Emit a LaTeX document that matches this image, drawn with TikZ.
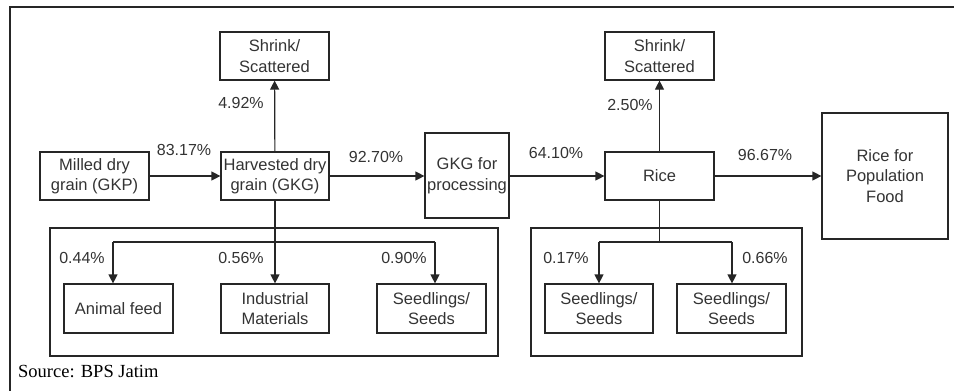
\documentclass[tikz,border=0pt]{standalone}
\usepackage{fontspec}
\setmainfont{Liberation Serif}
\newfontfamily\arialf{Liberation Sans}
\usetikzlibrary{arrows.meta,calc}
\begin{document}
\begin{tikzpicture}[x=1pt,y=-1pt,
  ln/.style={line width=1.2pt,draw=black!85},
  arr/.style={ln,-{Triangle[length=9pt,width=9pt]}},
  box/.style={draw=black!85,line width=1.2pt,inner sep=0pt,align=center,
    font=\arialf\fontsize{16.5}{20.5}\selectfont,text=black!80},
  lbl/.style={inner sep=0pt,font=\arialf\fontsize{16}{19}\selectfont,text=black!80}]
\useasboundingbox (0,0) rectangle (954,391);
\coordinate (fbl) at (10,391);
\coordinate (ftl) at (10,7);
\coordinate (ftr) at (954,7);
\draw[line width=1.3pt,draw=black!85] (fbl) -- (ftl) -- (ftr);
% groups
\node[draw=black!85,line width=1.2pt,minimum width=448pt,minimum height=128pt,inner sep=0pt] (g1) at (274,292) {};
\node[draw=black!85,line width=1.2pt,minimum width=271pt,minimum height=128pt,inner sep=0pt] (g2) at (666.5,292) {};
% main row
\node[box,minimum width=109pt,minimum height=48pt] (gkp) at (94.5,176) {Milled dry\\grain (GKP)};
\node[box,minimum width=108pt,minimum height=48pt] (gkg) at (275,176) {Harvested dry\\grain (GKG)};
\node[box,minimum width=84pt,minimum height=85pt] (proc) at (467,175.5) {GKG for\\processing};
\node[box,minimum width=109pt,minimum height=48pt] (rice) at (659.5,176) {Rice};
\node[box,minimum width=126pt,minimum height=126pt] (food) at (885,176) {Rice for\\Population\\Food};
% shrink
\node[box,minimum width=109pt,minimum height=48pt] (sh1) at (274.5,56) {Shrink/\\Scattered};
\node[box,minimum width=109pt,minimum height=48pt] (sh2) at (659.5,56) {Shrink/\\Scattered};
% bottom boxes
\node[box,minimum width=109pt,minimum height=49pt] (af) at (118.5,308.5) {Animal feed};
\node[box,minimum width=108pt,minimum height=49pt] (im) at (275,308.5) {Industrial\\Materials};
\node[box,minimum width=109pt,minimum height=49pt] (sd1) at (431.5,308.5) {Seedlings/\\Seeds};
\node[box,minimum width=108pt,minimum height=49pt] (sd2) at (599,308.5) {Seedlings/\\Seeds};
\node[box,minimum width=109pt,minimum height=49pt] (sd3) at (731.5,308.5) {Seedlings/\\Seeds};
% main arrows
\draw[arr] (gkp) -- (gkg);
\draw[arr] (gkg) -- (gkg -| proc.west);
\draw[arr] (proc.east |- rice) -- (rice);
\draw[arr] (rice) -- (rice -| food.west);
\draw[arr] (gkg) -- (sh1);
\draw[arr] (rice) -- (sh2);
% branches group 1
\coordinate (b1l) at (113,242);
\coordinate (b1r) at (435,242);
\draw[arr] (gkg) -- (im);
\draw[ln] (b1l) -- (b1r);
\draw[arr] (b1l) -- (b1l |- af.north);
\draw[arr] (b1r) -- (b1r |- sd1.north);
% branches group 2
\coordinate (b2l) at (599,242);
\coordinate (b2r) at (732,242);
\coordinate (b2m) at (659.5,242);
\draw[ln] (rice.south) -- (b2m);
\draw[ln] (b2l) -- (b2r);
\draw[arr] (b2l) -- (b2l |- sd2.north);
\draw[arr] (b2r) -- (b2r |- sd3.north);
% labels
\node[lbl] (l1) at (184,150) {83.17\%};
\node[lbl] (l2) at (376,157) {92.70\%};
\node[lbl] (l3) at (241,103) {4.92\%};
\node[lbl] (l4) at (556,153) {64.10\%};
\node[lbl] (l5) at (765,155) {96.67\%};
\node[lbl] (l6) at (630,105) {2.50\%};
\node[lbl] (l7) at (82,258) {0.44\%};
\node[lbl] (l8) at (241,258) {0.56\%};
\node[lbl] (l9) at (404,258) {0.90\%};
\node[lbl] (l10) at (566,258) {0.17\%};
\node[lbl] (l11) at (765,258) {0.66\%};
\node[anchor=west,inner sep=0pt,font=\fontsize{18.5}{22}\selectfont] (src) at (18,372) {Source: BPS Jatim};
\end{tikzpicture}
\end{document}
